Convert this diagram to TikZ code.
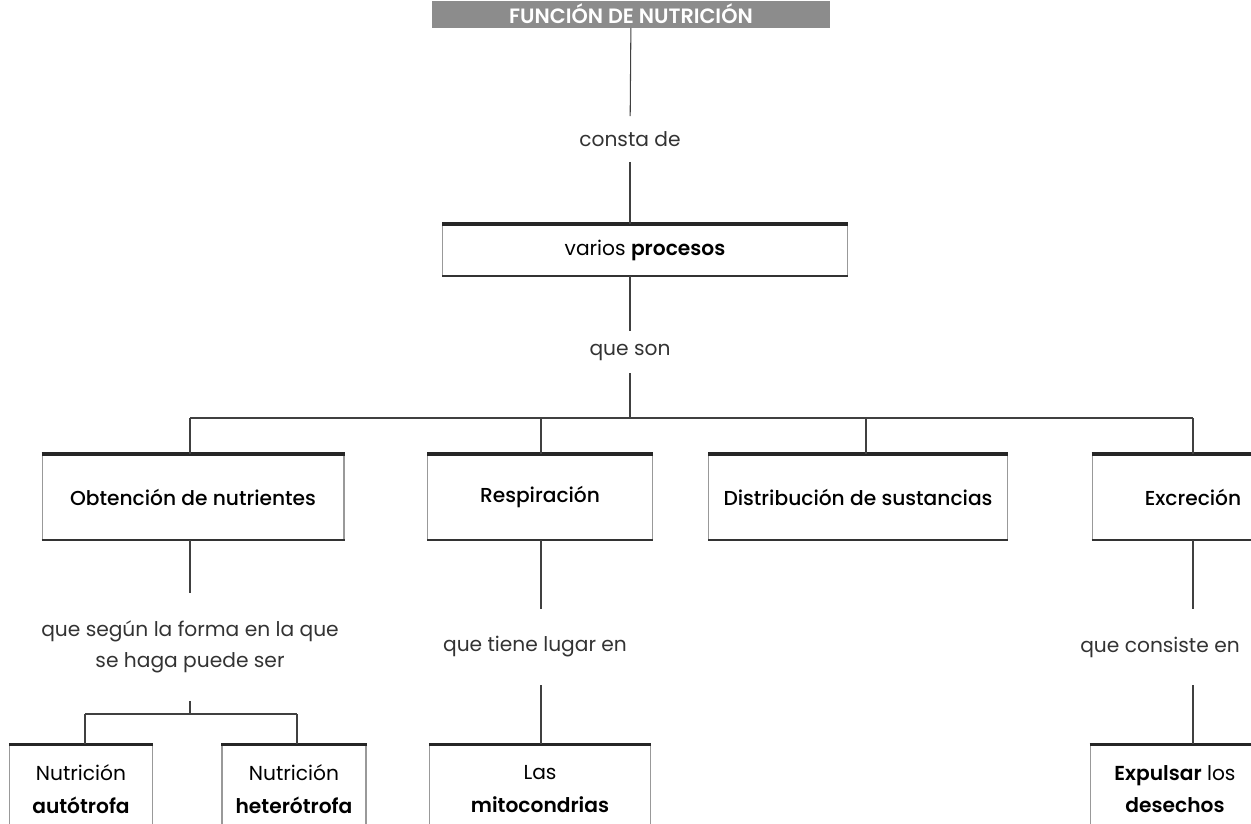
\documentclass[tikz,border=0pt]{standalone}
\usepackage{fontspec}
\setmainfont{Poppins}[BoldFont={Poppins SemiBold}]
\newfontfamily\medfont{Poppins Medium}

\begin{document}
\begin{tikzpicture}[x=0.02cm,y=-0.02cm,
  conn/.style={draw=black!75, line width=0.6pt},
  lbl/.style={font=\fontsize{11.5}{17.5}\selectfont, text=black!80, align=center, inner xsep=2pt, inner ysep=0.3cm},
  box/.style={draw=black!40, line width=0.6pt, fill=white, align=center,
    font=\fontsize{11.5}{18.5}\selectfont, inner sep=2pt},
  head/.style={box, font=\medfont\fontsize{11.5}{17}\selectfont},
  toprule/.style={draw=black!85, line width=2.2pt},
  botrule/.style={draw=black!80, line width=1.6pt},
  banner/.style={fill=black!45, text=white, font=\bfseries\fontsize{11.8}{13}\selectfont,
    minimum width=7.96cm, minimum height=0.54cm, inner sep=0pt}
]
\useasboundingbox (0,0) rectangle (1251,823);
\clip (0,0) rectangle (1251,823);

% title and first level
\node[banner] (title) at (631,14) {FUNCIÓN DE NUTRICIÓN};
\node[lbl, inner ysep=0.3cm] (l1) at (630,139) {consta de};
\node[box, minimum width=8.1cm, minimum height=1.02cm] (vp) at (645,250) {varios \textbf{procesos}};
\node[lbl, inner ysep=0.25cm] (l2) at (630,352) {que son};
\coordinate (bus) at (630,418);

% second level
\node[head, minimum width=6.04cm, minimum height=1.7cm] (ob) at (193,497) {Obtención de nutrientes};
\node[head, minimum width=4.5cm, minimum height=1.7cm] (re) at (540,497) {Respiración};
\node[head, minimum width=5.98cm, minimum height=1.7cm] (di) at (858,497) {Distribución de sustancias};
\node[head, minimum width=4.04cm, minimum height=1.7cm] (ex) at (1193,497) {Excreción};

\coordinate (d1) at (190,418);
\coordinate (d2) at (541,418);
\coordinate (d3) at (866,418);
\coordinate (d4) at (1193,418);

% third level labels
\node[lbl, inner ysep=0.55cm] (l3) at (190,647) {que según la forma en la que\\se haga puede ser};
\node[lbl, inner ysep=0.55cm] (l4) at (535,647) {que tiene lugar en};
\node[lbl, inner ysep=0.55cm] (l5) at (1160,647) {que consiste en};
\coordinate (sb) at (190,714);
\coordinate (s1) at (85,714);
\coordinate (s2) at (297,714);

% bottom row
\node[box, minimum width=2.86cm, minimum height=1.76cm] (na) at (81,789) {Nutrición\\\textbf{autótrofa}};
\node[box, minimum width=2.88cm, minimum height=1.76cm] (nh) at (294,789) {Nutrición\\\textbf{heterótrofa}};
\node[box, minimum width=4.42cm, minimum height=1.76cm] (mi) at (540,789) {Las\\\textbf{mitocondrias}};
\node[box, minimum width=3.4cm, minimum height=1.76cm] (ep) at (1175,789) {\textbf{Expulsar} los\\\textbf{desechos}};

% heavy rules on the boxes
\foreach \n in {vp,ob,re,di,ex} {
  \draw[toprule] (\n.north west) -- (\n.north east);
  \draw[botrule] (\n.south west) -- (\n.south east);
}
\foreach \n in {na,nh,mi,ep} {
  \draw[toprule] (\n.north west) -- (\n.north east);
}

% connectors
\draw[conn] (title) -- (l1);
\draw[conn] (l1) -- (l1 |- vp.north);
\draw[conn] (l2 |- vp.south) -- (l2);
\draw[conn] (l2) -- (bus);
\draw[conn] (d1) -- (d4);
\draw[conn] (d1) -- (d1 |- ob.north);
\draw[conn] (d2) -- (d2 |- re.north);
\draw[conn] (d3) -- (d3 |- di.north);
\draw[conn] (d4) -- (d4 |- ex.north);

\draw[conn] (l3 |- ob.south) -- (l3);
\draw[conn] (l3) -- (sb);
\draw[conn] (s1) -- (s2);
\draw[conn] (s1) -- (s1 |- na.north);
\draw[conn] (s2) -- (s2 |- nh.north);

\draw[conn] (d2 |- re.south) -- (d2 |- l4.north);
\draw[conn] (d2 |- l4.south) -- (d2 |- mi.north);
\draw[conn] (d4 |- ex.south) -- (d4 |- l5.north);
\draw[conn] (d4 |- l5.south) -- (d4 |- ep.north);
\end{tikzpicture}
\end{document}
